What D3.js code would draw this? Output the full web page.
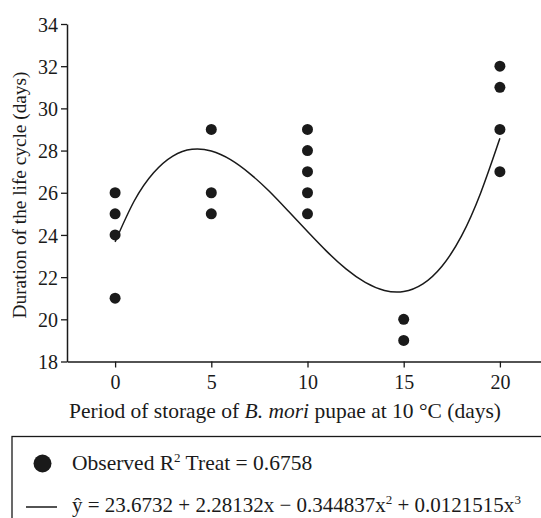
<!DOCTYPE html>
<html>
<head>
<meta charset="utf-8">
<script src="https://cdn.jsdelivr.net/npm/d3@7"></script>
<style>
html,body{margin:0;padding:0;background:#fff;}
svg{display:block;font-family:"Liberation Serif","Times New Roman",serif;}
</style>
</head>
<body>
<svg id="chart" width="541" height="518"></svg>
<script>
// Observed points
const obsX = [0, 0, 0, 0, 5, 5, 5, 10, 10, 10, 10, 10, 15, 15, 20, 20, 20, 20];
const obsY = [26, 25, 24, 21, 29, 26, 25, 29, 28, 27, 26, 25, 20, 19, 32, 31, 29, 27];
// Fitted curve at each day
const fitX = [0,1,2,3,4,5,6,7,8,9,10,11,12,13,14,15,16,17,18,19,20];
const fitY = [23.67,25.62,26.95,27.74,28.06,27.98,27.57,26.91,26.08,25.13,24.16,23.22,22.39,21.75,21.37,21.32,21.68,22.53,23.94,25.99,28.58];
const xTicks = [0, 5, 10, 15, 20];
const yTicks = [18, 20, 22, 24, 26, 28, 30, 32, 34];
const xTitleParts = ["Period of storage of ", "B. mori", " pupae at 10 °C (days)"];
const yTitle = "Duration of the life cycle (days)";
const legendObserved = "Observed R", legendR2 = "2", legendTreat = " Treat = 0.6758";

const svg = d3.select("#chart");
const ink = "#1a1a1a";
const x = d3.scaleLinear().domain([-2.5, 22.5]).range([67, 548]);
const y = d3.scaleLinear().domain([18, 34]).range([361.5, 24]);

// Y axis
const yAxis = svg.append("g").attr("transform", "translate(67,0)")
  .call(d3.axisLeft(y).tickValues(yTicks).tickSize(6).tickPadding(3).tickSizeOuter(0));
// X axis
const xAxis = svg.append("g").attr("transform", "translate(0,361.5)")
  .call(d3.axisBottom(x).tickValues(xTicks).tickSize(6).tickPadding(8).tickSizeOuter(0));
[yAxis, xAxis].forEach(g => {
  g.select(".domain").attr("stroke", ink).attr("stroke-width", 1.5);
  g.selectAll(".tick line").attr("stroke", ink).attr("stroke-width", 1.3);
  g.selectAll(".tick text").attr("fill", ink).style("font-size", "20px")
   .style("font-family", "'Liberation Serif', serif");
});
yAxis.selectAll(".tick text").attr("dy", "0.36em");
xAxis.selectAll(".tick text").attr("dy", "0.66em");

// Axis titles
svg.append("text").attr("transform", "translate(26,195) rotate(-90)")
  .attr("text-anchor", "middle").attr("fill", ink).style("font-size", "19.3px").text(yTitle);
const xt = svg.append("text").attr("x", 285).attr("y", 418).attr("text-anchor", "middle")
  .attr("fill", ink).style("font-size", "21.5px");
xt.append("tspan").text(xTitleParts[0]);
xt.append("tspan").style("font-style", "italic").text(xTitleParts[1]);
xt.append("tspan").text(xTitleParts[2]);

// Fitted curve
const line = d3.line().x((d, i) => x(fitX[i])).y(d => y(d)).curve(d3.curveNatural);
svg.append("path").datum(fitY).attr("d", line).attr("fill", "none")
  .attr("stroke", ink).attr("stroke-width", 1.5);

// Observed points
svg.append("g").selectAll("circle").data(obsY).join("circle")
  .attr("cx", (d, i) => x(obsX[i])).attr("cy", d => y(d)).attr("r", 5.5).attr("fill", ink);

// Legend
svg.append("rect").attr("x", 12).attr("y", 436.5).attr("width", 560).attr("height", 120)
  .attr("fill", "none").attr("stroke", ink).attr("stroke-width", 1.3);
svg.append("circle").attr("cx", 42.5).attr("cy", 463.5).attr("r", 9).attr("fill", ink);
const lt = svg.append("text").attr("x", 72).attr("y", 470).attr("fill", ink).style("font-size", "21.5px");
lt.append("tspan").text(legendObserved);
lt.append("tspan").attr("dy", -8).style("font-size", "13px").text(legendR2);
lt.append("tspan").attr("dy", 8).text(legendTreat);

svg.append("line").attr("x1", 26).attr("x2", 57).attr("y1", 507).attr("y2", 507)
  .attr("stroke", ink).attr("stroke-width", 1.5);
const eq = svg.append("text").attr("x", 72).attr("y", 512).attr("fill", ink).style("font-size", "21px");
eq.append("tspan").text("ŷ = 23.6732 + 2.28132x − 0.344837x");
eq.append("tspan").attr("dy", -8).style("font-size", "13px").text("2");
eq.append("tspan").attr("dy", 8).text(" + 0.0121515x");
eq.append("tspan").attr("dy", -8).style("font-size", "13px").text("3");
</script>
</body>
</html>
